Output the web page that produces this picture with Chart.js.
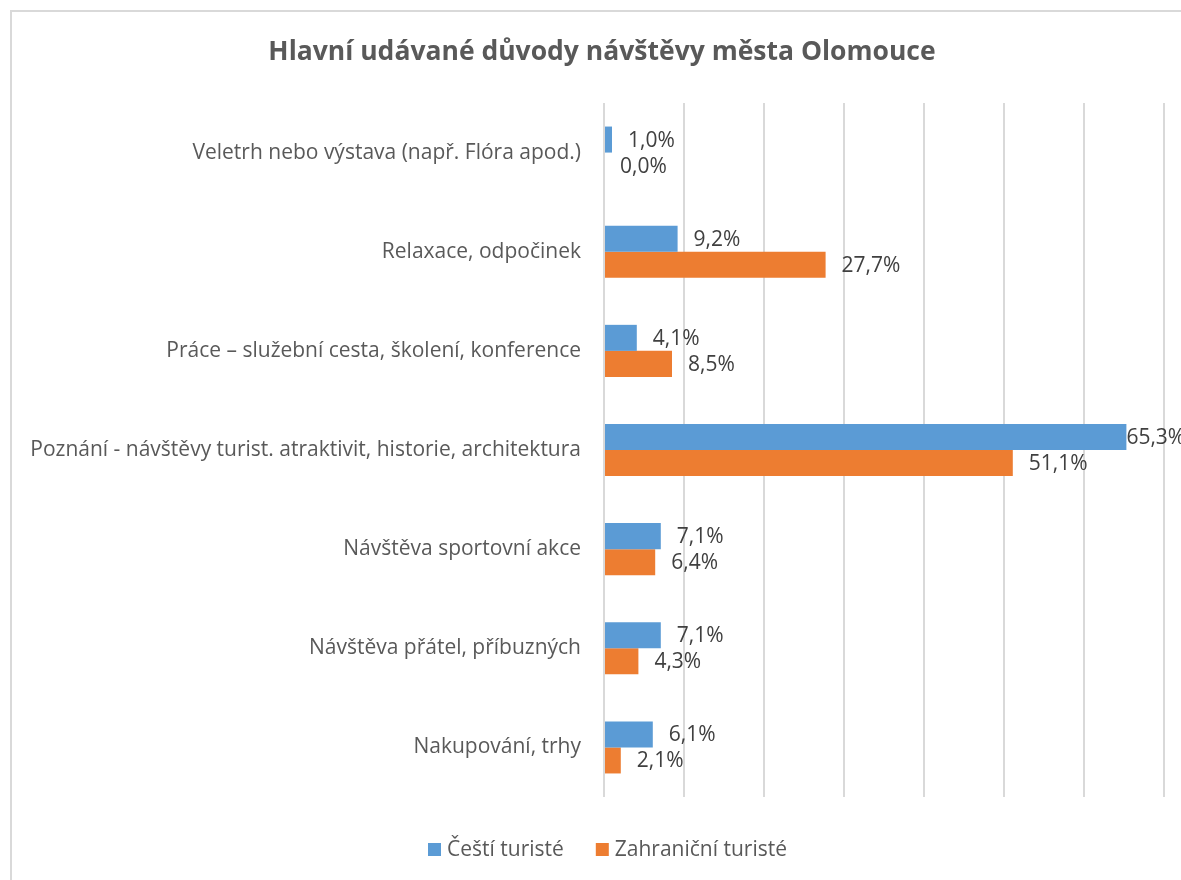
<!DOCTYPE html>
<html><head><meta charset="utf-8">
<script src="https://cdn.jsdelivr.net/npm/chart.js@4.4.1/dist/chart.umd.min.js"></script>
<style>
html,body{margin:0;padding:0;background:#fff;overflow:hidden;width:1181px;height:880px;}
#frame{position:absolute;left:10px;top:10px;width:1200px;height:900px;border-left:2px solid #d9d9d9;border-top:2px solid #d9d9d9;box-sizing:border-box;}
#wrap{position:absolute;left:0;top:0;width:1190px;height:880px;}
canvas{display:block;}
</style></head>
<body>
<div id="frame"></div>
<div id="wrap"><canvas id="c" width="1190" height="880" style="width:1190px;height:880px"></canvas></div>
<script>
const titleText = "Hlavní udávané důvody návštěvy města Olomouce";
const categories = [
  "Veletrh nebo výstava (např. Flóra apod.)",
  "Relaxace, odpočinek",
  "Práce – služební cesta, školení, konference",
  "Poznání - návštěvy turist. atraktivit, historie, architektura",
  "Návštěva sportovní akce",
  "Návštěva přátel, příbuzných",
  "Nakupování, trhy"
];
const seriesNames = ["Čeští turisté", "Zahraniční turisté"];
const czechValues = [1.0, 9.2, 4.1, 65.3, 7.1, 7.1, 6.1];
const foreignValues = [0.0, 27.7, 8.5, 51.1, 6.4, 4.3, 2.1];
const colors = ["#5B9BD5", "#ED7D31"];

const FONT = "'Open Sans', Lato, sans-serif";
const LABEL_SIZE = 21;
const CANVAS_W = 1190, CANVAS_H = 880;
const FRAME_RIGHT = 1183;

const labelsPlugin = {
  id: 'valueLabels',
  afterDatasetsDraw(chart) {
    const ctx = chart.ctx;
    ctx.save();
    ctx.font = LABEL_SIZE + "px " + FONT;
    ctx.fillStyle = "#404040";
    ctx.textBaseline = "middle";
    ctx.textAlign = "left";
    chart.data.datasets.forEach((ds, di) => {
      const meta = chart.getDatasetMeta(di);
      meta.data.forEach((bar, i) => {
        const txt = ds.data[i].toFixed(1).replace('.', ',') + '%';
        const w = ctx.measureText(txt).width;
        let x = bar.x + 16;
        if (x + w > FRAME_RIGHT) x = Math.max(bar.x, FRAME_RIGHT - w);
        ctx.fillText(txt, x, bar.y + 1);
      });
    });
    ctx.restore();
  },
  afterDraw(chart) {
    const ctx = chart.ctx;
    ctx.save();
    ctx.font = "bold 26.5px " + FONT;
    ctx.fillStyle = "#595959";
    ctx.textAlign = "center";
    ctx.textBaseline = "middle";
    ctx.fillText(titleText, 602, 52);
    ctx.font = LABEL_SIZE + "px " + FONT;
    ctx.textAlign = "left";
    const startX = 428, y = 849, box = 13, gapText = 6, gapItem = 32;
    let x = startX;
    seriesNames.forEach((n, k) => {
      ctx.fillStyle = colors[k];
      ctx.fillRect(x, y - 6, box, box);
      ctx.fillStyle = "#595959";
      ctx.fillText(n, x + box + gapText, y + 1);
      x += box + gapText + ctx.measureText(n).width + gapItem;
    });
    ctx.restore();
  }
};

new Chart(document.getElementById('c'), {
  type: 'bar',
  data: {
    labels: categories,
    datasets: [
      { label: seriesNames[0], data: czechValues, backgroundColor: colors[0], categoryPercentage: 0.525, barPercentage: 1.0 },
      { label: seriesNames[1], data: foreignValues, backgroundColor: colors[1], categoryPercentage: 0.525, barPercentage: 1.0 }
    ]
  },
  options: {
    indexAxis: 'y',
    responsive: false,
    animation: false,
    devicePixelRatio: 1,
    layout: { padding: { left: 0, right: CANVAS_W - 1164, top: 103, bottom: CANVAS_H - 797 } },
    plugins: { legend: { display: false }, title: { display: false }, tooltip: { enabled: false } },
    scales: {
      x: {
        min: 0, max: 70,
        ticks: { display: false, stepSize: 10 },
        grid: { color: "#d9d9d9", lineWidth: 2, drawTicks: false },
        border: { display: false }
      },
      y: {
        ticks: { color: "#595959", font: { size: LABEL_SIZE, family: FONT }, padding: 15, autoSkip: false },
        grid: { display: false },
        border: { display: false },
        afterFit(scale) { scale.width = 604; }
      }
    }
  },
  plugins: [labelsPlugin]
});
</script>
</body></html>
